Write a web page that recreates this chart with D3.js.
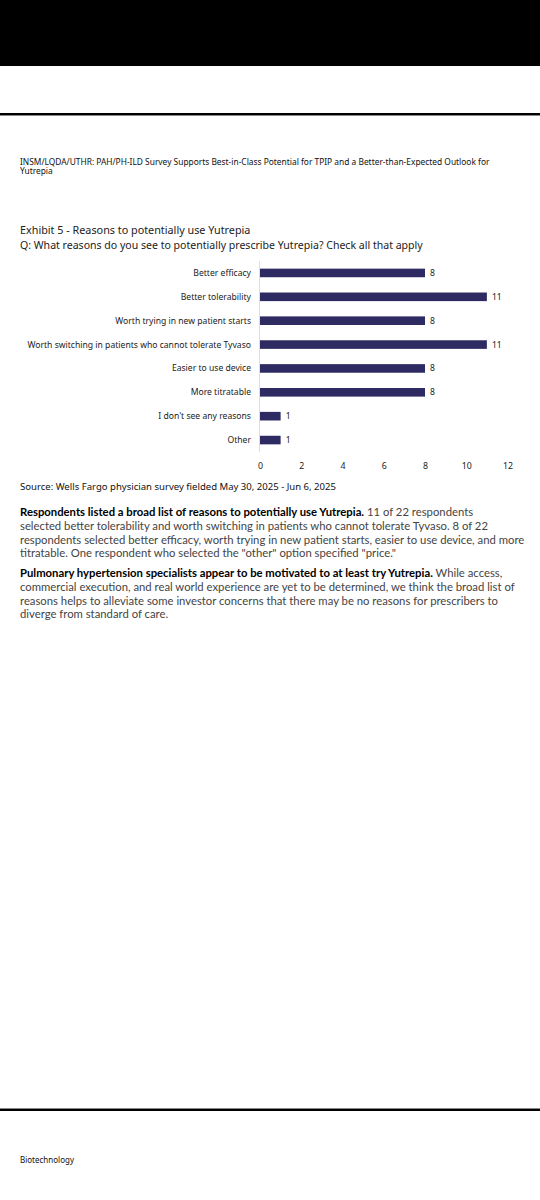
<!DOCTYPE html>
<html><head><meta charset="utf-8">
<script src="https://cdn.jsdelivr.net/npm/d3@7"></script>
<style>
html,body{margin:0;padding:0;background:#fff;}
svg{display:block;font-family:"Noto Sans",sans-serif;}
</style></head>
<body>
<svg id="c" width="540" height="1200"></svg>
<script>
const categories = ["Better efficacy","Better tolerability","Worth trying in new patient starts","Worth switching in patients who cannot tolerate Tyvaso","Easier to use device","More titratable","I don't see any reasons","Other"];
const values = [8,11,8,11,8,8,1,1];
const xTicks = [0,2,4,6,8,10,12];
const headerLines = ["INSM/LQDA/UTHR: PAH/PH-ILD Survey Supports Best-in-Class Potential for TPIP and a Better-than-Expected Outlook for","Yutrepia"];
const exhibitTitle = "Exhibit 5 - Reasons to potentially use Yutrepia";
const question = "Q: What reasons do you see to potentially prescribe Yutrepia? Check all that apply";
const source = "Source: Wells Fargo physician survey fielded May 30, 2025 - Jun 6, 2025";
const para1 = [
  [["Respondents listed a broad list of reasons to potentially use Yutrepia.",true],[" 11 of 22 respondents",false]],
  [["selected better tolerability and worth switching in patients who cannot tolerate Tyvaso. 8 of 22",false]],
  [["respondents selected better efficacy, worth trying in new patient starts, easier to use device, and more",false]],
  [["titratable. One respondent who selected the \"other\" option specified \"price.\"",false]]
];
const para2 = [
  [["Pulmonary hypertension specialists appear to be motivated to at least try Yutrepia.",true],[" While access,",false]],
  [["commercial execution, and real world experience are yet to be determined, we think the broad list of",false]],
  [["reasons helps to alleviate some investor concerns that there may be no reasons for prescribers to",false]],
  [["diverge from standard of care.",false]]
];
const footer = "Biotechnology";

const svg = d3.select("#c");
svg.append("rect").attr("x",0).attr("y",0).attr("width",540).attr("height",66).attr("fill","#000");
svg.append("rect").attr("x",0).attr("y",113).attr("width",540).attr("height",2).attr("fill","#000");
svg.append("rect").attr("x",0).attr("y",115).attr("width",540).attr("height",1).attr("fill","#888");

svg.append("text").attr("x",20).attr("y",165).attr("font-size",8.4).attr("fill","#111")
  .selectAll("tspan").data(headerLines).join("tspan").attr("x",20).attr("dy",(d,i)=>i?9:0).text(d=>d);

svg.append("text").attr("x",20).attr("y",234).attr("font-size",10.8).attr("fill","#222").text(exhibitTitle);
svg.append("text").attr("x",20).attr("y",249).attr("font-size",10.55).attr("fill","#222").text(question);

const x = d3.scaleLinear().domain([0,12]).range([260,507.5]);
const y = d3.scaleBand().domain(categories).range([261,452]).paddingInner(0.64).paddingOuter(0.32);

svg.append("line").attr("x1",x(0)-0.5).attr("x2",x(0)-0.5).attr("y1",261).attr("y2",452).attr("stroke","#ddd").attr("stroke-width",1);

svg.append("g").selectAll("rect").data(values).join("rect")
  .attr("x",x(0)).attr("y",(d,i)=>y(categories[i])).attr("width",d=>x(d)-x(0)).attr("height",y.bandwidth())
  .attr("fill","#2e2a62");

svg.append("g").selectAll("text").data(values).join("text")
  .attr("x",d=>x(d)+5).attr("y",(d,i)=>y(categories[i])+y.bandwidth()/2).attr("dy","0.35em")
  .attr("font-size",8.6).attr("fill","#222").text(d=>d);

svg.append("g").selectAll("text").data(categories).join("text")
  .attr("x",251).attr("y",d=>y(d)+y.bandwidth()/2).attr("dy","0.35em").attr("text-anchor","end")
  .attr("font-size",8.6).attr("fill","#222").text(d=>d);

const ax = svg.append("g").attr("transform","translate(0,459)")
  .call(d3.axisBottom(x).tickValues(xTicks).tickSize(0).tickPadding(4));
ax.select(".domain").remove();
ax.selectAll("text").attr("font-size",8.8).attr("fill","#222").attr("font-family","Noto Sans");

svg.append("text").attr("x",20).attr("y",490).attr("font-size",9.55).attr("fill","#111").text(source);

function para(lines, y0, lh){
  const t = svg.append("text").attr("font-size",11.3).attr("fill","#444").attr("font-family","Lato");
  lines.forEach((segs,i)=>{
    segs.forEach((s,j)=>{
      const ts = t.append("tspan").text(s[0]);
      if(j===0){ ts.attr("x",20).attr("y",y0+i*lh); }
      if(s[1]) ts.attr("font-weight","bold").attr("fill","#000");
    });
  });
}
para(para1,516,13.8);
para(para2,577,13.8);

svg.append("rect").attr("x",0).attr("y",1108).attr("width",540).attr("height",1).attr("fill","#888");
svg.append("rect").attr("x",0).attr("y",1109).attr("width",540).attr("height",2).attr("fill","#000");
svg.append("text").attr("x",20).attr("y",1163).attr("font-size",8).attr("fill","#111").text(footer);
</script>
</body></html>
